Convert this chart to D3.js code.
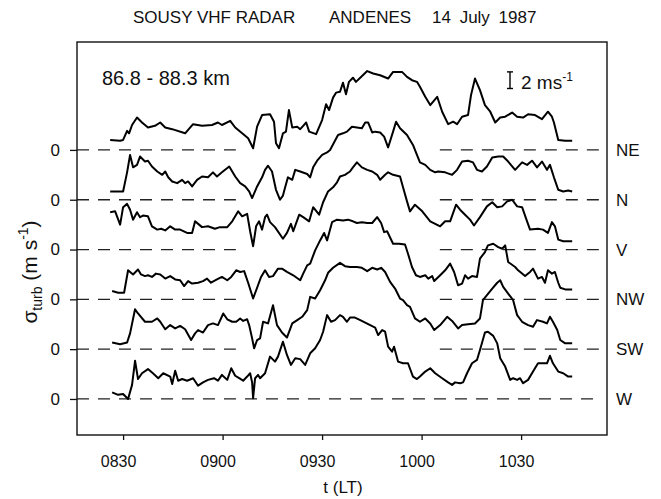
<!DOCTYPE html>
<html>
<head>
<meta charset="utf-8">
<script src="https://cdn.jsdelivr.net/npm/d3@7"></script>
<style>
body { margin: 0; background: #fff; }
svg text { font-family: "Liberation Sans", Arial, Helvetica, sans-serif; fill: #111; }
</style>
</head>
<body>
<div id="chart"></div>
<script>
// time: minutes after 08:00 LT, value: sigma_turb in m/s
const directions = ['NE', 'N', 'V', 'NW', 'SW', 'W'];
const offsets = [30, 24, 18, 12, 6, 0];
const tickMinutes = [30, 60, 90, 120, 150];
const tickLabels = ['0830', '0900', '0930', '1000', '1030'];

const neData = [[26.1,1.2],[29.1,1.1],[30.0,1.2],[31.2,2.3],[31.8,2.0],[32.7,3.0],[34.2,3.9],[35.7,3.3],[37.5,2.7],[39.6,2.9],[41.2,3.3],[42.7,2.7],[44.8,2.5],[48.7,2.0],[51.1,3.1],[53.8,2.9],[56.8,3.0],[58.6,3.3],[59.8,3.0],[62.3,3.5],[63.8,2.7],[65.9,2.0],[67.7,1.4],[69.2,0.2],[70.4,2.8],[71.9,4.2],[74.3,4.3],[75.5,3.4],[76.1,0.8],[77.0,0.2],[78.2,2.0],[79.1,2.2],[80.0,4.8],[81.0,2.7],[82.5,2.8],[83.4,2.5],[84.3,2.9],[85.2,3.3],[86.1,2.2],[88.2,1.9],[90.0,3.6],[91.2,5.5],[92.1,4.8],[93.3,6.3],[94.2,6.9],[95.4,7.0],[96.3,8.1],[97.2,6.7],[98.1,8.2],[99.3,8.7],[100.2,8.2],[101.5,8.7],[103.6,9.5],[105.4,9.2],[107.5,9.0],[109.9,8.6],[111.4,9.4],[114.1,9.4],[115.6,8.8],[117.1,8.4],[118.6,8.2],[119.5,7.6],[121.1,6.4],[122.6,5.4],[124.7,6.4],[126.2,4.6],[128.0,3.1],[129.5,3.4],[130.7,3.1],[132.2,4.0],[134.0,4.2],[134.9,6.6],[136.1,8.6],[137.6,7.2],[139.1,5.4],[140.7,4.6],[142.2,3.3],[143.7,3.9],[145.2,4.0],[147.3,4.5],[148.8,4.0],[150.6,3.9],[152.1,4.3],[154.2,4.2],[156.3,3.7],[158.1,4.6],[159.3,4.0],[159.9,3.3],[161.2,1.2],[163.3,1.1],[165.4,1.1]];

const nData = [[26.1,1.0],[30.0,1.0],[31.2,3.3],[32.1,5.4],[33.0,3.9],[34.2,4.2],[35.1,5.2],[36.6,4.6],[37.5,4.7],[38.7,4.0],[40.3,3.4],[41.8,3.0],[42.7,3.4],[43.6,2.7],[44.8,2.2],[46.3,2.0],[47.8,2.4],[48.7,2.0],[49.6,2.2],[50.8,1.6],[52.3,2.4],[53.8,2.8],[55.6,2.7],[57.1,3.3],[58.3,2.8],[59.8,3.3],[62.0,4.0],[63.8,2.8],[65.3,2.0],[66.8,1.6],[68.0,1.0],[68.9,0.2],[70.4,1.6],[71.9,2.7],[72.8,3.6],[73.7,4.1],[74.9,3.4],[76.1,1.2],[77.3,0.0],[78.2,0.5],[78.8,1.4],[79.7,2.7],[81.0,2.4],[81.9,3.6],[83.4,3.4],[85.5,3.1],[86.4,2.7],[87.3,3.9],[88.5,4.7],[90.0,5.4],[91.5,5.7],[92.4,6.0],[93.6,6.9],[94.8,7.8],[96.3,8.0],[97.5,8.2],[99.0,8.8],[100.5,8.7],[102.0,8.6],[103.0,9.3],[103.9,9.3],[105.1,8.1],[106.0,8.2],[107.5,8.1],[108.7,7.6],[109.9,6.3],[111.4,8.2],[112.3,9.4],[113.5,8.6],[115.6,7.8],[117.4,6.6],[118.6,5.4],[119.5,4.5],[121.1,4.2],[122.6,3.6],[124.1,3.3],[125.0,3.4],[127.1,3.3],[129.2,3.0],[130.7,3.6],[132.2,4.6],[134.0,4.7],[135.5,4.5],[136.7,3.6],[138.2,3.4],[139.7,4.0],[141.3,5.1],[143.1,5.2],[144.6,5.2],[146.1,4.6],[148.2,3.6],[150.3,4.5],[151.8,4.2],[153.3,4.7],[154.8,3.9],[156.3,4.6],[157.8,3.6],[158.7,4.2],[159.9,2.7],[161.2,1.2],[162.7,1.0],[164.2,1.1],[165.4,1.0]];

const vData = [[26.1,4.5],[27.6,4.6],[29.1,3.0],[30.0,5.1],[31.2,5.5],[32.1,4.8],[33.0,3.6],[34.2,4.5],[35.1,3.9],[36.0,4.1],[37.5,4.0],[38.7,2.8],[40.3,2.4],[41.5,2.5],[42.7,2.3],[44.2,2.8],[45.7,2.4],[47.2,2.4],[49.3,2.0],[50.8,2.0],[51.7,3.4],[52.9,3.0],[53.8,2.7],[55.6,2.8],[57.7,2.5],[59.2,2.7],[61.4,2.7],[62.9,3.4],[64.7,4.6],[65.9,4.0],[67.4,4.3],[68.3,2.2],[69.2,0.4],[70.1,2.8],[71.0,3.4],[71.9,2.4],[72.8,3.9],[73.4,4.2],[74.3,3.3],[75.8,2.7],[78.2,1.3],[79.4,2.0],[80.6,3.1],[81.3,2.2],[83.1,4.2],[84.3,3.9],[86.1,3.4],[87.3,5.1],[89.1,4.2],[90.3,5.7],[91.8,7.0],[93.3,7.5],[94.5,8.1],[95.4,8.8],[96.9,9.0],[98.4,9.4],[99.3,9.9],[100.5,10.5],[102.0,9.9],[103.6,9.6],[105.1,9.4],[106.6,9.0],[107.5,8.4],[109.0,9.0],[109.9,9.3],[111.4,9.0],[113.5,8.8],[114.4,7.5],[115.6,5.8],[116.5,4.6],[118.0,5.4],[120.2,4.6],[122.6,3.4],[124.1,3.1],[125.6,2.8],[127.1,3.4],[128.6,3.4],[130.4,5.4],[131.6,4.8],[133.1,4.2],[134.6,3.6],[135.8,2.9],[137.6,3.9],[139.7,5.2],[141.3,5.7],[142.8,5.1],[144.3,5.2],[145.8,5.8],[147.3,6.0],[148.8,5.2],[150.3,5.1],[151.8,3.4],[152.7,2.4],[155.1,2.5],[156.6,2.4],[158.1,2.0],[159.3,3.3],[160.2,2.8],[161.2,1.2],[162.7,1.0],[165.4,1.0]];

const nwData = [[26.7,1.0],[28.5,0.8],[30.3,0.8],[31.5,3.5],[33.0,3.0],[34.5,3.6],[35.4,3.0],[36.6,2.8],[37.5,2.9],[38.7,2.7],[39.9,3.1],[41.2,3.0],[42.7,2.5],[44.2,2.8],[45.7,2.4],[47.2,2.3],[48.4,1.6],[49.6,2.2],[50.8,1.9],[52.6,2.0],[54.1,2.2],[55.3,2.5],[56.5,2.0],[58.3,2.4],[59.8,2.7],[61.4,2.3],[62.6,2.7],[64.1,3.5],[65.3,3.3],[66.5,3.4],[67.7,2.0],[69.2,0.1],[70.4,1.4],[71.6,2.7],[72.8,3.5],[74.0,2.7],[75.2,2.8],[76.7,3.7],[77.9,3.7],[79.4,3.3],[81.3,2.9],[83.4,2.3],[84.3,3.1],[85.5,4.1],[86.4,4.3],[87.9,5.9],[89.4,7.1],[90.6,8.0],[91.5,7.1],[93.0,9.3],[94.5,9.6],[96.3,9.5],[97.8,9.6],[99.3,9.4],[100.5,9.2],[102.0,9.3],[103.6,9.2],[105.1,9.2],[106.6,9.9],[107.8,9.2],[108.7,8.1],[109.6,8.2],[111.4,6.7],[113.2,6.7],[115.0,6.6],[115.9,5.5],[117.1,3.9],[118.3,2.9],[119.5,2.7],[121.1,2.9],[122.0,2.5],[123.2,2.8],[123.8,2.2],[125.6,2.9],[127.1,3.5],[128.6,4.3],[129.8,3.3],[131.0,1.7],[132.2,1.9],[133.1,2.9],[134.0,2.5],[135.2,2.8],[136.7,2.7],[137.6,4.9],[139.1,5.7],[140.0,6.5],[141.6,6.7],[143.1,6.3],[144.3,6.1],[145.2,6.5],[146.1,4.5],[148.2,3.9],[149.1,3.5],[151.2,2.8],[152.7,3.3],[153.6,3.7],[155.1,2.5],[156.3,2.7],[157.2,2.0],[158.1,3.5],[159.3,3.1],[160.2,3.3],[161.2,2.0],[161.8,1.4],[163.3,1.2],[165.4,1.2]];

const swData = [[26.7,0.8],[29.1,0.6],[31.2,0.8],[32.1,1.9],[33.6,4.8],[34.5,4.3],[36.6,3.3],[38.7,3.3],[40.3,3.7],[41.2,3.3],[42.7,2.4],[44.2,2.9],[45.7,2.5],[47.2,2.8],[48.7,2.4],[50.5,1.1],[51.7,1.9],[52.6,2.3],[54.1,2.0],[55.6,2.9],[57.1,3.1],[58.6,2.9],[60.2,4.3],[61.4,3.6],[62.9,3.3],[64.1,3.3],[65.3,3.7],[66.2,3.4],[67.4,3.6],[68.0,2.9],[68.9,1.3],[69.5,0.1],[70.4,1.1],[71.3,1.3],[72.2,3.3],[73.7,3.1],[75.2,5.3],[76.4,2.9],[77.9,2.0],[79.4,1.4],[81.0,3.1],[82.5,3.5],[84.0,3.9],[85.5,4.7],[86.4,6.3],[87.9,6.1],[89.4,7.1],[90.9,8.3],[91.8,9.2],[93.3,9.8],[95.4,10.4],[96.9,10.0],[98.4,9.9],[100.5,9.9],[102.0,9.8],[103.6,9.4],[105.1,9.8],[106.6,9.6],[107.8,9.8],[109.0,9.3],[110.5,8.1],[112.0,7.3],[113.5,6.1],[114.4,5.9],[115.6,5.3],[116.5,5.1],[118.0,3.7],[119.5,3.3],[121.1,3.7],[122.6,3.1],[123.8,2.3],[125.6,2.9],[127.7,3.9],[129.2,3.4],[131.0,2.5],[132.2,2.9],[134.0,3.0],[136.1,3.1],[137.6,3.7],[138.5,5.9],[139.7,6.5],[141.3,7.3],[142.8,8.0],[143.7,8.3],[144.6,7.5],[146.1,6.7],[147.6,5.9],[148.8,4.1],[150.3,3.3],[152.1,2.9],[153.6,2.7],[154.8,3.5],[156.6,3.3],[157.8,3.1],[158.7,3.9],[159.6,3.3],[160.9,2.3],[161.8,1.1],[163.3,0.7],[165.4,0.7]];

const wData = [[26.7,0.8],[28.5,0.5],[30.0,0.6],[31.5,0.0],[32.7,1.7],[33.6,4.6],[34.5,2.4],[35.7,3.1],[37.5,3.6],[39.0,3.1],[40.6,2.5],[42.1,3.1],[44.2,2.7],[44.8,1.8],[45.7,3.4],[46.6,2.2],[47.8,2.4],[49.3,2.2],[51.1,2.5],[52.6,1.6],[54.1,2.0],[55.6,2.3],[57.4,2.5],[58.6,2.2],[59.8,2.9],[61.4,2.3],[62.6,3.7],[63.8,2.8],[65.0,2.5],[66.2,2.2],[67.4,2.7],[68.3,3.1],[68.9,2.0],[69.2,0.1],[69.8,2.5],[70.7,2.9],[71.3,2.5],[72.8,3.1],[74.3,5.1],[75.8,4.5],[76.7,5.1],[78.2,6.9],[79.4,5.3],[80.6,4.1],[81.9,4.9],[83.4,4.8],[84.9,4.1],[86.4,5.5],[87.9,6.1],[89.4,7.1],[90.3,8.1],[91.5,10.1],[92.7,9.3],[93.9,9.5],[95.4,10.1],[96.3,9.9],[97.5,9.3],[98.4,9.8],[99.9,9.8],[101.5,9.5],[103.0,9.2],[104.5,8.9],[106.0,8.6],[106.9,7.7],[108.1,8.3],[109.0,8.1],[109.9,6.3],[111.1,5.7],[111.7,6.3],[112.9,4.5],[114.4,4.3],[115.9,4.3],[117.4,2.7],[118.6,2.4],[119.5,2.7],[121.1,3.3],[122.6,3.7],[124.1,3.1],[126.2,2.5],[128.0,2.0],[129.2,1.7],[130.1,2.0],[131.6,1.9],[132.5,2.0],[133.7,3.1],[135.2,4.3],[136.7,4.7],[137.6,5.9],[139.1,8.0],[140.0,8.1],[141.6,7.6],[142.8,6.7],[143.7,4.9],[145.2,3.9],[146.7,2.3],[147.6,2.5],[148.8,2.3],[149.7,2.5],[150.6,1.9],[152.1,2.3],[153.6,3.3],[155.1,4.3],[156.6,4.3],[157.8,4.3],[158.7,5.2],[159.6,4.3],[161.2,3.3],[162.7,3.1],[164.2,2.7],[165.4,2.7]];

const series = [neData, nData, vData, nwData, swData, wData];

const width = 661, height = 499;
const margin = { left: 77, right: 54, top: 42, bottom: 64 };

const svg = d3.select('#chart')
    .append('svg')
    .attr('width', width)
    .attr('height', height);

const x = d3.scaleLinear()
    .domain([16.1, 175.9])
    .range([margin.left, width - margin.right]);

const y = d3.scaleLinear()
    .domain([-4.34, 43.0])
    .range([height - margin.bottom, margin.top]);

// zero lines, left open in the middle except for W
const gap = [64, 125.5];
offsets.forEach(function(off, i) {
    const segs = i < 5 ? [[16.1, gap[0]], [gap[1], 175.6]] : [[16.1, 173.2]];
    segs.forEach(function(s) {
        svg.append('line')
            .attr('x1', x(s[0])).attr('x2', x(s[1]))
            .attr('y1', y(off)).attr('y2', y(off))
            .attr('stroke', '#222')
            .attr('stroke-width', 1.3)
            .attr('stroke-dasharray', '12,9');
    });
});

const line = d3.line()
    .x(d => x(d[0]))
    .y(d => y(d[1]));

series.forEach(function(data, i) {
    svg.append('path')
        .datum(data.map(d => [d[0], d[1] + offsets[i]]))
        .attr('d', line)
        .attr('fill', 'none')
        .attr('stroke', '#000')
        .attr('stroke-width', 2)
        .attr('stroke-linejoin', 'round');
});

// frame
svg.append('rect')
    .attr('x', margin.left)
    .attr('y', margin.top)
    .attr('width', width - margin.left - margin.right)
    .attr('height', height - margin.top - margin.bottom)
    .attr('fill', 'none')
    .attr('stroke', '#111')
    .attr('stroke-width', 1.4);

const xAxis = svg.append('g')
    .attr('transform', `translate(0,${height - margin.bottom})`)
    .call(d3.axisBottom(x)
        .tickValues(tickMinutes)
        .tickFormat((d, i) => tickLabels[i])
        .tickSize(5)
        .tickPadding(16));
xAxis.select('.domain').remove();
xAxis.selectAll('line').attr('stroke', '#111').attr('stroke-width', 1.3);
xAxis.selectAll('text').attr('font-size', 16).attr('dx', -5);

const yAxis = svg.append('g')
    .attr('transform', `translate(${margin.left},0)`)
    .call(d3.axisLeft(y)
        .tickValues(offsets)
        .tickFormat(() => '0')
        .tickSize(7)
        .tickPadding(10));
yAxis.select('.domain').remove();
yAxis.selectAll('line').attr('stroke', '#111').attr('stroke-width', 1.3);
yAxis.selectAll('text').attr('font-size', 17);

// direction labels on the right
svg.selectAll('text.dir')
    .data(directions)
    .enter()
    .append('text')
    .attr('class', 'dir')
    .attr('x', width - margin.right + 9)
    .attr('y', (d, i) => y(offsets[i]))
    .attr('dy', '0.36em')
    .attr('font-size', 17)
    .text(d => d);

// title
const title = [['SOUSY VHF RADAR', 133, 0], ['ANDENES', 329, 0], ['14 July 1987', 432, 4]];
title.forEach(function(t) {
    svg.append('text')
        .attr('x', t[1])
        .attr('y', 23)
        .attr('font-size', 17)
        .attr('word-spacing', t[2])
        .text(t[0]);
});

svg.append('text')
    .attr('x', 102)
    .attr('y', 85)
    .attr('font-size', 20)
    .text('86.8 - 88.3 km');

// 2 m/s scale bar
const barX = 510, barTop = 39.4, barBottom = 37.4;
svg.append('line')
    .attr('x1', barX).attr('x2', barX)
    .attr('y1', y(barTop)).attr('y2', y(barBottom))
    .attr('stroke', '#000').attr('stroke-width', 1.4);
[barTop, barBottom].forEach(function(v) {
    svg.append('line')
        .attr('x1', barX - 3).attr('x2', barX + 3)
        .attr('y1', y(v)).attr('y2', y(v))
        .attr('stroke', '#000').attr('stroke-width', 1.4);
});
const scaleText = svg.append('text')
    .attr('x', 521)
    .attr('y', 89)
    .attr('font-size', 19);
scaleText.append('tspan').text('2 ms');
scaleText.append('tspan').attr('font-size', 12).attr('dy', -8).text('-1');

// axis titles
svg.append('text')
    .attr('x', 343)
    .attr('y', 493)
    .attr('text-anchor', 'middle')
    .attr('font-size', 17)
    .text('t (LT)');

const yTitle = svg.append('text')
    .attr('transform', 'translate(37,272) rotate(-90)')
    .attr('text-anchor', 'middle')
    .attr('font-size', 21);
yTitle.append('tspan').text('σ');
yTitle.append('tspan').attr('font-size', 14).attr('dy', 5).text('turb');
yTitle.append('tspan').attr('dy', -5).text(' (m s');
yTitle.append('tspan').attr('font-size', 14).attr('dy', -9).text('-1');
yTitle.append('tspan').attr('dy', 9).text(')');
</script>
</body>
</html>
